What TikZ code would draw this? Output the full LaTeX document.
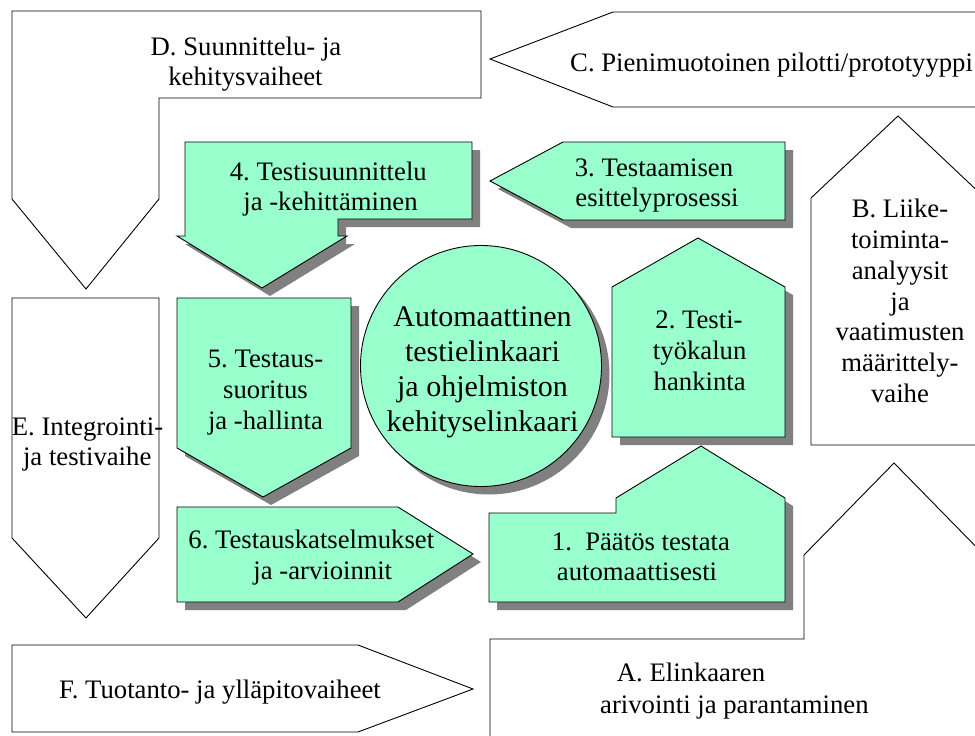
\documentclass[tikz,border=0pt]{standalone}
\usepackage{fontspec}
\setmainfont{Liberation Serif}
\definecolor{mint}{RGB}{153,255,204}
\definecolor{shadowgray}{RGB}{128,128,128}
\tikzset{
  outline/.style={draw=black, line width=0.9pt},
  phase/.style={outline},
  stepshape/.style={outline, fill=mint},
  dropfill/.style={fill=shadowgray},
  lbl/.style={inner sep=0pt, anchor=base, font=\fontsize{26.7}{31}\selectfont},
  lblw/.style={lbl, anchor=base west},
  biglbl/.style={lbl, scale=1.1236},
}
% a green step shape with its grey drop shadow
\newcommand\castshape[1]{\fill[dropfill, shift={(8,8)}] #1; \draw[stepshape] #1;}
\begin{document}
\begin{tikzpicture}[x=1pt,y=-1pt]
\useasboundingbox (0,0) rectangle (975,736);

% ---- outer phases A-F ----
% D
\draw[phase] (12,11) -- (481,11) -- (481,98) -- (159,98) -- (159,199) -- (86,289) -- (12,199) -- cycle;
\node[lbl] (d1) at (246,55) {D. Suunnittelu- ja};
\node[lbl] (d2) at (245.5,85) {kehitysvaiheet};
% C
\draw[phase] (990,12) -- (613,12) -- (490,59) -- (613,107) -- (990,107);
\node[lblw] (c1) at (570,71) {C. Pienimuotoinen pilotti/prototyyppi};
% B
\draw[phase] (990,202.7) -- (898,116) -- (811,198) -- (811,445) -- (990,445);
\node[lbl] (b1) at (900,217.7) {B. Liike-};
\node[lbl] (b2) at (900,248.5) {toiminta-};
\node[lbl] (b3) at (900,279.3) {analyysit};
\node[lbl] (b4) at (900,310.1) {ja};
\node[lbl] (b5) at (900,340.9) {vaatimusten};
\node[lbl] (b6) at (900,371.7) {määrittely-};
\node[lbl] (b7) at (900,402.5) {vaihe};
% A
\draw[phase] (490,745) -- (490,639) -- (804,639) -- (804,555) -- (894,463) -- (990,561);
\node[lblw] (a1) at (616.7,681.7) {A. Elinkaaren};
\node[lblw] (a2) at (600,713) {arivointi ja parantaminen};
% E
\draw[phase] (12,298) -- (159,298) -- (159,538) -- (86,618) -- (12,538) -- cycle;
\node[lbl] (e1) at (87.5,435) {E. Integrointi-};
\node[lbl] (e2) at (87.2,465.5) {ja testivaihe};
% F
\draw[phase] (12,645) -- (358,645) -- (473,689) -- (358,732) -- (12,732) -- cycle;
\node[lbl] (f1) at (220,698.3) {F. Tuotanto- ja ylläpitovaiheet};

% ---- inner steps 1-6 ----
% 4
\castshape{(185,142) -- (472,142) -- (472,219) -- (338,219) -- (338,236) -- (347,236) -- (262,288) -- (177,236) -- (185,236) -- cycle}
\node[lbl] (s4a) at (328.3,180) {4.\ Testisuunnittelu};
\node[lbl] (s4b) at (330.5,210) {ja -kehittäminen};
% 3
\castshape{(490,181) -- (563,142) -- (785,142) -- (785,220) -- (563,220) -- cycle}
\node[lbl] (s3a) at (654,176.7) {3.\ Testaamisen};
\node[lbl] (s3b) at (657,206.5) {esittelyprosessi};
% 2
\castshape{(698,238) -- (785,287) -- (785,437) -- (612,437) -- (612,287) -- cycle}
\node[lbl] (s2a) at (699,328.5) {2.\ Testi-};
\node[lbl] (s2b) at (699.7,359.3) {työkalun};
\node[lbl] (s2c) at (699.7,390) {hankinta};
% 5
\castshape{(177,298) -- (351,298) -- (351,448) -- (263,497) -- (177,448) -- cycle}
\node[lbl] (s5a) at (265.5,367.3) {5.\ Testaus-};
\node[lbl] (s5b) at (265.5,398.3) {suoritus};
\node[lbl] (s5c) at (265.5,429) {ja -hallinta};
% centre circle
\castshape{(481,366) circle[radius=120.5]}
\node[biglbl] (m1) at (482.5,326.7) {Automaattinen};
\node[biglbl] (m2) at (482.5,361.7) {testielinkaari};
\node[biglbl] (m3) at (482.5,396.7) {ja ohjelmiston};
\node[biglbl] (m4) at (482.5,431.7) {kehityselinkaari};
% 6
\castshape{(177,507) -- (398,507) -- (473,554) -- (398,602) -- (177,602) -- cycle}
\node[lbl] (s6a) at (311.3,548.3) {6.\ Testauskatselmukset};
\node[lbl] (s6b) at (322.8,579) {ja -arvioinnit};
% 1
\castshape{(701,446) -- (785,498) -- (785,602) -- (489,602) -- (489,513) -- (616,513) -- (616,498) -- cycle}
\node[lblw] (s1a) at (551.7,550) {1.\ \ Päätös testata};
\node[lblw] (s1b) at (556.7,580) {automaattisesti};
\end{tikzpicture}
\end{document}
